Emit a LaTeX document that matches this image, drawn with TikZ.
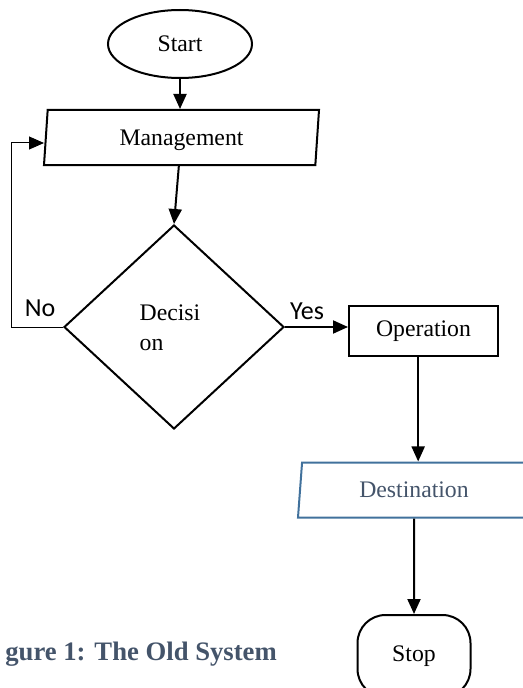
\documentclass[tikz,border=0pt]{standalone}
\usepackage{fontspec}
\setmainfont{Liberation Serif}
\newfontfamily\calibri{Carlito}
\usetikzlibrary{positioning, shapes.geometric, arrows.meta}

\definecolor{slateblue}{RGB}{65,113,156}
\definecolor{slategray}{RGB}{68,84,106}

\begin{document}
\begin{tikzpicture}[x=0.75pt, y=-0.75pt]
  \tikzstyle{box} = [draw, line width=1.5pt, inner sep=0pt, font=\fontsize{17.8}{22.5}\selectfont]
  \tikzstyle{terminal} = [box, ellipse, minimum width=108pt, minimum height=51pt]
  \tikzstyle{datain} = [box, trapezium, trapezium stretches body, minimum height=41.25pt, text depth=0pt]
  \tikzstyle{choice} = [box, diamond, aspect=1.08, minimum width=165pt, minimum height=153pt]
  \tikzstyle{process} = [box, rectangle, minimum width=111.75pt, minimum height=37.5pt]
  \tikzstyle{endbox} = [box, rectangle, rounded corners=21pt, minimum width=84.75pt, minimum height=61.5pt]
  \tikzstyle{flow} = [line width=1.5pt, -{Triangle[width=9.75pt, length=11.25pt]}]
  \tikzstyle{branch} = [font=\calibri\fontsize{19.5}{22}\selectfont, inner sep=0pt]

  \useasboundingbox (0,0) rectangle (522,688);

  % Draw shapes
  \node[terminal] (start) at (180,44) {Start};
  \node[datain, trapezium left angle=76.7, trapezium right angle=103.3, minimum width=206.25pt] (mgmt) at (181.5,137.5) {Management};
  \node[choice] (dec) at (174,327) {};
  \node[box, draw=none, align=left] (dectext) at (170,328) {Decisi\\on};
  \node[process] (op) at (423.5,331) {Operation};
  \node[datain, draw=slateblue, text=slategray, trapezium left angle=75.5, trapezium right angle=104.5, minimum width=174pt] (dest) at (414,490) {Destination};
  \node[endbox] (stop) at (414,656) {Stop};

  % Draw labels
  \node[branch] (no) at (40,308) {No};
  \node[branch] (yes) at (307,311) {Yes};
  \node[anchor=base east, text=slategray, font=\bfseries\fontsize{20}{24}\selectfont, inner sep=0pt] (caption) at (277,660) {gure 1: The Old System};

  % Connections
  \coordinate (loopend) at (44,143);
  \draw[flow] (start.south) -- (start.south |- mgmt.north);
  \draw[flow] ([xshift=-2pt]mgmt.south) -- (dec.north);
  \draw[flow] (dec.east) -- (op.west |- dec.east);
  \draw[flow] ([xshift=-4pt]op.south) -- ([xshift=-4pt]op.south |- dest.north);
  \draw[flow] (dest.south) -- (stop.north);
  \draw[line width=0.75pt, -{Triangle[width=9.75pt, length=11.25pt]}] (dec.west) -- ++(-52,0) |- (loopend);

\end{tikzpicture}
\end{document}
